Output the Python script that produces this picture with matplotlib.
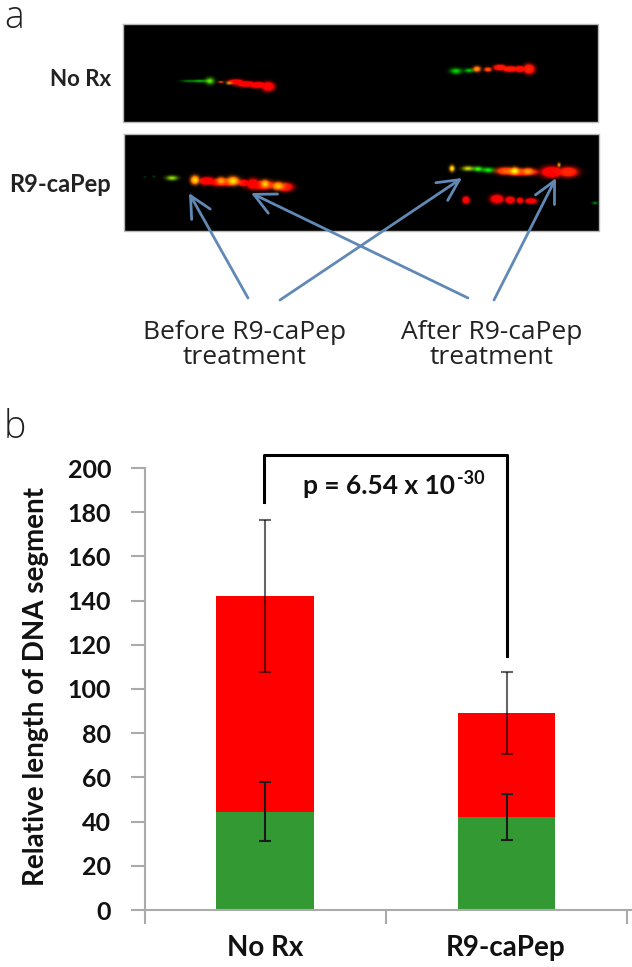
import matplotlib
matplotlib.use('Agg')
import matplotlib.pyplot as plt
import numpy as np

W, H = 632, 967

categories = ['No Rx', 'R9-caPep']
green_vals = [44.5, 42]
red_tops = [142, 89]
green_err = [13.5, 10.5]
red_err = [34.5, 18.5]
yticks = [0, 20, 40, 60, 80, 100, 120, 140, 160, 180, 200]

# streak blobs on the two micrographs: x, y, x spread, y spread, red, green
blobs_top = [
    (188, 81, 5, 0.9, 0, 0.5), (200, 81, 5, 1.0, 0, 0.8), (210, 81, 3, 2.4, 0.15, 1.0),
    (221, 82, 2, 0.8, 0.4, 0.3), (229, 83, 2, 1.2, 0.4, 0.7),
    (236, 82, 5, 1.7, 1, 0), (246, 84, 6, 1.8, 1, 0), (258, 85, 6, 1.9, 1, 0), (268, 86.5, 4, 2.8, 1, 0),
    (456, 71, 4, 2.0, 0, 1), (469, 70.5, 3, 1.5, 0, 0.9), (477, 69, 2.5, 1.9, 0.7, 0.7), (488, 69.5, 2.5, 1.5, 0.7, 0.4),
    (500, 67.5, 4, 1.8, 1, 0.12), (510, 69, 5, 1.8, 1, 0.12), (520, 69, 4, 1.9, 1, 0.05), (529, 69, 3.5, 3.0, 1, 0.15),
]
blobs_bot = [
    (145, 177, 1, 0.8, 0, 0.22), (154, 176.5, 1, 0.8, 0, 0.3), (172, 178, 4, 1.7, 0.25, 1),
    (195, 180, 2.8, 2.8, 1, 1.1), (207, 181, 5, 2.4, 1, 0), (221, 181, 3, 2.4, 1, 0.8), (233, 181, 4, 2.8, 1, 1.1),
    (225, 182, 12, 2.4, 1, 0), (244, 183, 4, 2.0, 1, 0), (253, 184, 4, 3.2, 1, 0), (265, 184, 3, 2.6, 1, 1.0),
    (262, 185, 9, 2.8, 1, 0), (278, 186, 4, 2.6, 1, 0.9), (285, 187, 5, 2.6, 1, 0.1),
    (452, 168.5, 1.8, 2.2, 0.6, 1.1), (468, 168.5, 4, 1.7, 0.35, 1.0), (478, 169, 3, 1.8, 0.1, 1.1), (488, 170, 4, 1.8, 0, 1.1),
    (506, 171, 6, 2.3, 1, 0.45), (515, 171, 3, 2.4, 1, 1.0), (528, 171.5, 4, 2.2, 1, 0.7), (520, 172, 12, 2.2, 1, 0.1),
    (552, 172, 7, 3.4, 1, 0), (568, 172, 6, 3.0, 1, 0.2), (559, 165, 1.2, 1.6, 0.5, 0.6),
    (466, 200, 2.2, 2.2, 1, 0), (497, 199, 4, 2.6, 1, 0), (510, 200, 3, 2.1, 1, 0), (520, 200.5, 2, 1.7, 1, 0), (531, 201, 3.5, 1.7, 1, 0),
    (595, 203, 2, 1, 0, 0.6),
]
panels = [(123, 598, 24, 122), (124, 599, 134, 231)]
row_labels = ['No Rx', 'R9-caPep']
arrows = [((248, 298), (189, 193)), ((468, 298), (251, 193)), ((280, 300), (462, 178)), ((494, 300), (556, 178))]


def render(x0, x1, y0, y1, blobs):
    xx, yy = np.meshgrid(np.arange(x0, x1) + 0.5, np.arange(y0, y1) + 0.5)
    rgb = np.zeros(xx.shape + (3,))
    for bx, by, sx, sy, r, g in blobs:
        b = np.exp(-((xx - bx) / sx) ** 2 / 2 - ((yy - by) / sy) ** 2 / 2)
        rgb[..., 0] = np.maximum(rgb[..., 0], np.clip(2.2 * r * b, 0, 1))
        rgb[..., 1] += g * b * 0.85
    return np.clip(rgb, 0, 1)


fig = plt.figure(figsize=(W / 100, H / 100), dpi=100)

# overlay in pixel coordinates for panel a
ov = fig.add_axes([0, 0, 1, 1])
ov.set_xlim(0, W)
ov.set_ylim(H, 0)
ov.axis('off')

for (x0, x1, y0, y1), blobs in zip(panels, [blobs_top, blobs_bot]):
    ov.imshow(render(x0, x1, y0, y1, blobs), extent=(x0, x1, y1, y0), aspect='auto', interpolation='bilinear')
    ov.plot([x0, x1, x1, x0, x0], [y0, y0, y1, y1, y0], color='#b8b8b8', lw=1)
ov.set_xlim(0, W)
ov.set_ylim(H, 0)

ov.text(111, 79, row_labels[0], ha='right', va='center', family='Lato', weight='bold', fontsize=16, color='#222222')
ov.text(111, 184, row_labels[1], ha='right', va='center', family='Lato', weight='bold', fontsize=17, color='#222222')

for start, end in arrows:
    ov.annotate('', xy=end, xytext=start,
                arrowprops=dict(arrowstyle='->,head_length=0.9,head_width=0.45', color='#6189b5', lw=2,
                                shrinkA=0, shrinkB=0, mutation_scale=17))

ov.text(245, 345, 'Before R9-caPep\ntreatment', ha='center', va='center', family='Open Sans', fontsize=19,
        color='#222222', linespacing=1.0)
ov.text(492, 345, 'After R9-caPep\ntreatment', ha='center', va='center', family='Open Sans', fontsize=19,
        color='#222222', linespacing=1.0)
ov.text(4, 28, 'a', family='Open Sans', weight='light', fontsize=27, color='#222222')
ov.text(4, 438, 'b', family='Open Sans', weight='light', fontsize=27, color='#222222')

# panel b, bars
ax = fig.add_axes([144.5 / W, 1 - 910 / H, (W - 144.5) / W, 442 / H])
ax.patch.set_alpha(0)
x = np.arange(len(categories))
red_part = np.array(red_tops) - np.array(green_vals)
ax.bar(x, green_vals, width=0.405, color='#339933')
ax.bar(x, red_part, width=0.405, bottom=green_vals, color='#ff0000')
ax.errorbar(x, green_vals, yerr=green_err, fmt='none', ecolor='#1a1a1a', elinewidth=1.5, capsize=4, capthick=1.5)
ax.errorbar(x, red_tops, yerr=red_err, fmt='none', ecolor=(0, 0, 0, 0.6), elinewidth=1.5, capsize=4, capthick=1.5)

ax.set_xlim(-0.5, 1.52)
ax.set_ylim(0, 200)
ax.set_yticks(yticks)
ax.set_xticks([-0.5, 0.5, 1.5])
ax.set_xticklabels([])
ax.tick_params(axis='both', color='#aaaaaa', width=1.5, length=10)
ax.tick_params(axis='y', labelsize=18, pad=14, labelcolor='#111111')
for lab in ax.get_yticklabels():
    lab.set_family('Lato')
    lab.set_weight('bold')
for s in ['top', 'right']:
    ax.spines[s].set_visible(False)
for s in ['left', 'bottom']:
    ax.spines[s].set_color('#aaaaaa')
    ax.spines[s].set_linewidth(1.5)

for xi, name in zip(x, categories):
    ov.text(144.5 + (xi + 0.5) * 241, 948, name, ha='center', va='center', family='Lato', weight='bold',
            fontsize=20, color='#111111')
ax.set_ylabel('Relative length of DNA segment', family='Lato', weight='bold', fontsize=20, color='#111111')
ax.yaxis.set_label_coords(-0.195, 0.505)

# significance bracket
ov.plot([264, 264, 507, 507], [502, 455, 455, 656], color='black', lw=2.2, solid_joinstyle='round')
ov.text(303, 486, 'p = 6.54 x 10', ha='left', va='center', family='Lato', weight='bold', fontsize=19, color='#111111')
ov.text(457, 479, '-30', ha='left', va='center', family='Lato', weight='bold', fontsize=13, color='#111111')

fig.savefig('out.png', dpi=100)
